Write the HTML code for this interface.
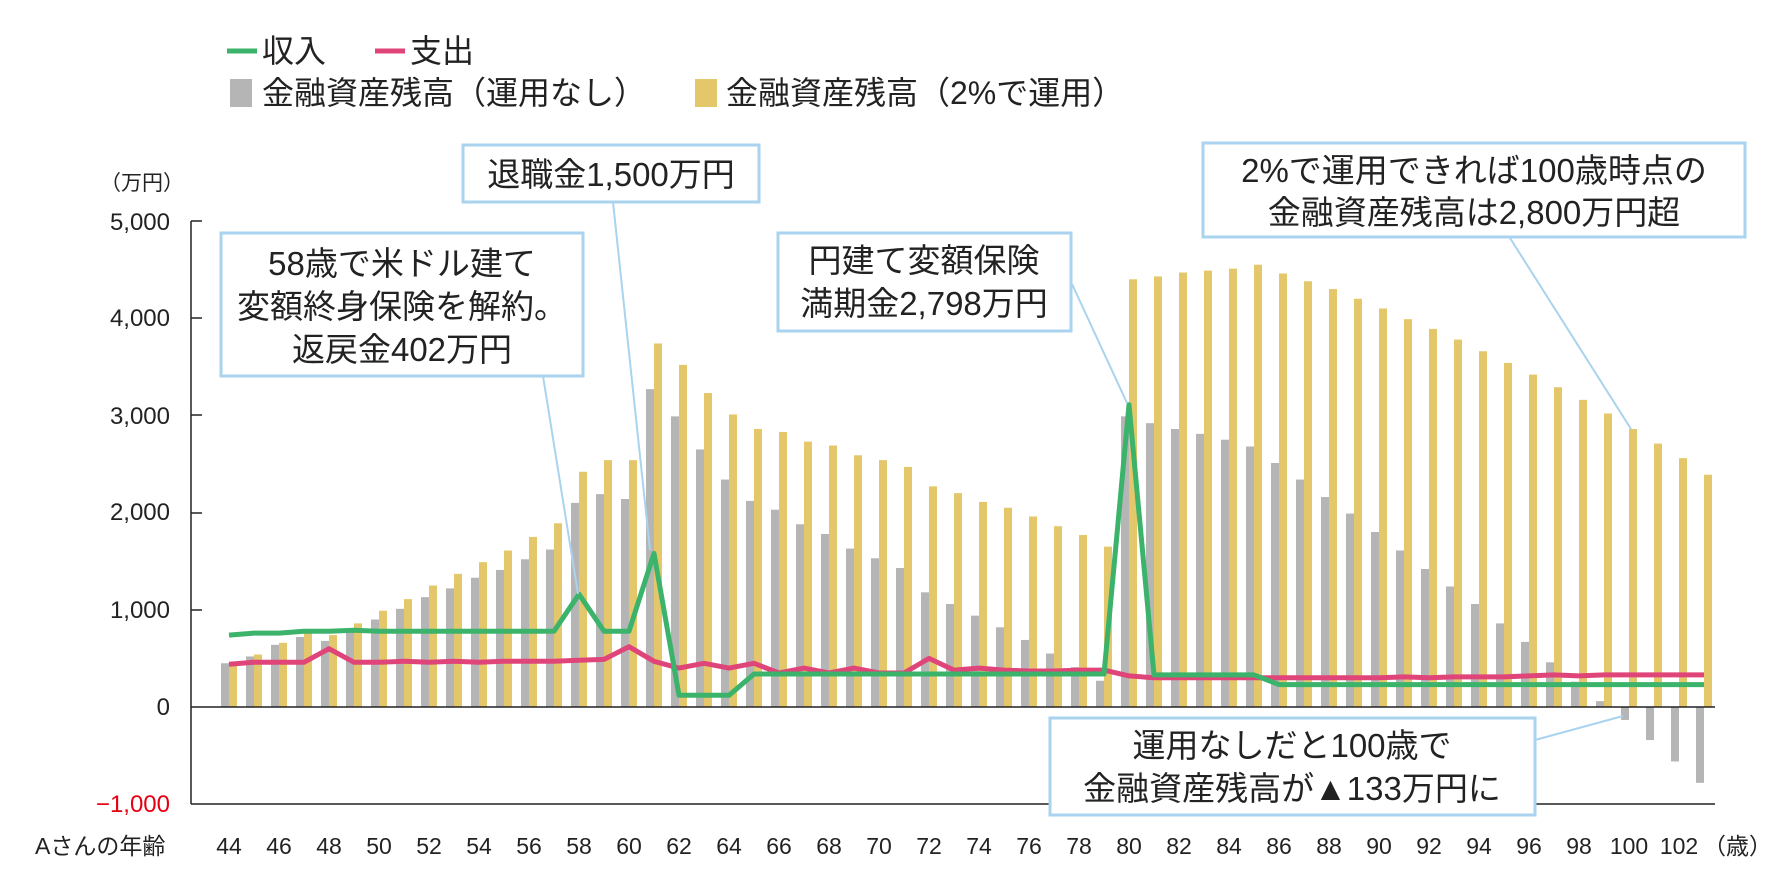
<!DOCTYPE html>
<html><head><meta charset="utf-8"><style>
body{margin:0;background:#fff;}
svg text{font-family:"Liberation Sans","Noto Sans CJK JP",sans-serif;}
</style></head><body>
<svg id="s" width="1780" height="890" xmlns="http://www.w3.org/2000/svg">
<rect width="1780" height="890" fill="#fff"/>
<!-- legend -->
<line x1="227" y1="51" x2="257" y2="51" stroke="#3bb36b" stroke-width="5"/>
<text x="262" y="62" font-size="32" fill="#222">収入</text>
<line x1="375" y1="51" x2="405" y2="51" stroke="#e0457a" stroke-width="5"/>
<text x="410" y="62" font-size="32" fill="#222">支出</text>
<rect x="230" y="79" width="22" height="28" fill="#b5b5b5"/>
<text x="262" y="104" font-size="32" fill="#222">金融資産残高（運用なし）</text>
<rect x="695" y="79" width="22" height="28" fill="#e3c76a"/>
<text x="726" y="104" font-size="32" fill="#222">金融資産残高（2%で運用）</text>
<!-- y axis -->
<text x="100" y="190" font-size="21" fill="#222">（万円）</text>
<g font-size="24" fill="#222" text-anchor="end">
<text x="170" y="230">5,000</text>
<text x="170" y="326">4,000</text>
<text x="170" y="424">3,000</text>
<text x="170" y="520">2,000</text>
<text x="170" y="618">1,000</text>
<text x="170" y="715">0</text>
<text x="170" y="812" fill="#e60012">−1,000</text>
</g>
<g id="bars"></g>
<g stroke="#222" stroke-width="1.5">
<line x1="191" y1="221" x2="191" y2="804"/>
<line x1="191" y1="221" x2="202" y2="221"/>
<line x1="191" y1="318" x2="202" y2="318"/>
<line x1="191" y1="415" x2="202" y2="415"/>
<line x1="191" y1="513" x2="202" y2="513"/>
<line x1="191" y1="610" x2="202" y2="610"/>
<line x1="191" y1="707" x2="1715" y2="707"/>
<line x1="191" y1="804" x2="1715" y2="804"/>
</g>
<g id="lines"></g>
<!-- x labels -->
<g font-size="23" fill="#222" text-anchor="middle">
<text x="229" y="854">44</text><text x="279" y="854">46</text><text x="329" y="854">48</text><text x="379" y="854">50</text><text x="429" y="854">52</text><text x="479" y="854">54</text><text x="529" y="854">56</text><text x="579" y="854">58</text><text x="629" y="854">60</text><text x="679" y="854">62</text><text x="729" y="854">64</text><text x="779" y="854">66</text><text x="829" y="854">68</text><text x="879" y="854">70</text><text x="929" y="854">72</text><text x="979" y="854">74</text><text x="1029" y="854">76</text><text x="1079" y="854">78</text><text x="1129" y="854">80</text><text x="1179" y="854">82</text><text x="1229" y="854">84</text><text x="1279" y="854">86</text><text x="1329" y="854">88</text><text x="1379" y="854">90</text><text x="1429" y="854">92</text><text x="1479" y="854">94</text><text x="1529" y="854">96</text><text x="1579" y="854">98</text><text x="1629" y="854">100</text><text x="1679" y="854">102</text>
</g>
<text x="1703" y="854" font-size="23" fill="#222">（歳）</text>
<text x="35" y="854" font-size="23" fill="#222">Aさんの年齢</text>
<!-- annotations -->
<g stroke="#a9d3ee" stroke-width="2" fill="none">
<line x1="613" y1="202" x2="650" y2="550"/>
<line x1="543" y1="376" x2="578" y2="594"/>
<line x1="1072" y1="284" x2="1127" y2="403"/>
<line x1="1510" y1="238" x2="1631" y2="429"/>
<line x1="1535" y1="740" x2="1623" y2="716"/>
</g>
<g stroke="#a9d3ee" stroke-width="3" fill="#fff">
<rect x="463" y="145" width="296" height="57"/>
<rect x="221" y="233" width="362" height="143"/>
<rect x="778" y="233" width="293" height="98"/>
<rect x="1203" y="143" width="542" height="94"/>
<rect x="1050" y="718" width="485" height="97"/>
</g>
<g font-size="33" fill="#222" text-anchor="middle">
<text x="611" y="186">退職金1,500万円</text>
<text x="402" y="275">58歳で米ドル建て</text>
<text x="402" y="318">変額終身保険を解約。</text>
<text x="402" y="361">返戻金402万円</text>
<text x="924" y="272">円建て変額保険</text>
<text x="924" y="315">満期金2,798万円</text>
<text x="1474" y="182">2%で運用できれば100歳時点の</text>
<text x="1474" y="224">金融資産残高は2,800万円超</text>
<text x="1292" y="757">運用なしだと100歳で</text>
<text x="1292" y="800">金融資産残高が▲133万円に</text>
</g>
</svg>
<script>
var gray=[450,520,640,720,680,800,900,1010,1130,1220,1330,1410,1520,1620,2100,2190,2140,3270,2990,2650,2340,2120,2030,1880,1780,1630,1530,1430,1180,1060,940,820,690,550,410,270,2990,2920,2860,2810,2750,2680,2510,2340,2160,1990,1800,1610,1420,1240,1060,860,670,460,260,60,-133,-340,-560,-780];
var gold=[450,540,660,760,740,860,990,1110,1250,1370,1490,1610,1750,1890,2420,2540,2540,3740,3520,3230,3010,2860,2830,2730,2690,2590,2540,2470,2270,2200,2110,2050,1960,1860,1770,1650,4400,4430,4470,4490,4510,4550,4460,4380,4300,4200,4100,3990,3890,3780,3660,3540,3420,3290,3160,3020,2860,2710,2560,2390];
var inc=[740,760,760,780,780,790,780,780,780,780,780,780,780,780,1160,780,780,1580,120,120,120,340,340,340,340,340,340,340,340,340,340,340,340,340,340,340,3110,330,330,330,330,330,230,230,230,230,230,230,230,230,230,230,230,230,230,230,230,230,230,230];
var exp=[440,460,460,460,600,460,460,470,460,470,460,470,470,470,480,490,620,470,400,450,400,450,350,400,350,400,350,350,500,380,400,380,370,370,380,380,320,300,300,300,300,300,300,300,300,300,300,310,300,310,310,310,320,330,320,330,330,330,330,330];
function Y(v){return 707-v*0.0972;}
function cx(i){return 229+i*25;}
var b=document.getElementById('bars'),s='';
for(var i=0;i<60;i++){
 var y1=Y(gray[i]);s+='<rect x="'+(cx(i)-8)+'" y="'+Math.min(y1,707)+'" width="8" height="'+Math.abs(707-y1)+'" fill="#b5b5b5"/>';
 var y2=Y(gold[i]);s+='<rect x="'+cx(i)+'" y="'+y2+'" width="8" height="'+(707-y2)+'" fill="#e3c76a"/>';
}
b.innerHTML=s;
function pts(a){return a.map(function(v,i){return cx(i)+','+Y(v).toFixed(1)}).join(' ');}
document.getElementById('lines').innerHTML='<polyline points="'+pts(exp)+'" fill="none" stroke="#e0457a" stroke-width="5" stroke-linejoin="round"/><polyline points="'+pts(inc)+'" fill="none" stroke="#3bb36b" stroke-width="5" stroke-linejoin="round"/>';
</script>
</body></html>
